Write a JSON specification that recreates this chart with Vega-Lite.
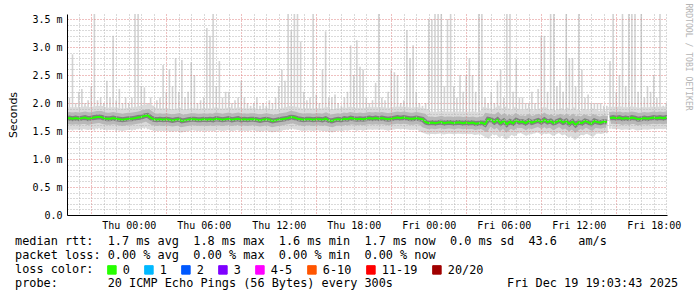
{
  "$schema": "https://vega.github.io/schema/vega-lite/v6.json",
  "width": 600,
  "height": 201,
  "autosize": {"type": "none"},
  "padding": {"left": 67, "top": 14, "right": 30, "bottom": 82},
  "background": "#ffffff",
  "config": {"view": {"stroke": null}},
  "title": {
    "text": [
      "median rtt:\u00a0\u00a01.7 ms avg\u00a0\u00a01.8 ms max\u00a0\u00a01.6 ms min\u00a0\u00a01.7 ms now\u00a0\u00a00.0 ms sd\u00a0\u00a043.6\u00a0\u00a0\u00a0am/s",
      "packet loss: 0.00 % avg\u00a0\u00a00.00 % max\u00a0\u00a00.00 % min\u00a0\u00a00.00 % now",
      "loss color:",
      "probe:\u00a0\u00a0\u00a0\u00a0\u00a0\u00a0\u00a020 ICMP Echo Pings (56 Bytes) every 300s\u00a0\u00a0\u00a0\u00a0\u00a0\u00a0\u00a0\u00a0\u00a0\u00a0\u00a0\u00a0\u00a0\u00a0\u00a0\u00a0Fri Dec 19 19:03:43 2025"
    ],
    "orient": "bottom",
    "anchor": "start",
    "frame": "group",
    "dx": -52,
    "offset": -41,
    "baseline": "top",
    "font": "DejaVu Sans Mono",
    "fontSize": 11.85,
    "fontWeight": "normal",
    "color": "#000000",
    "lineHeight": 14
  },
  "data": {"values": [
    {"h":-5.0,"lo":1.52,"hi":2.1,"m":1.72},{"h":-4.75,"lo":1.52,"hi":2.1,"m":1.73},{"h":-4.5,"lo":1.51,"hi":2.87,"m":1.72},{"h":-4.25,"lo":1.53,"hi":2.0,"m":1.73},
    {"h":-4.0,"lo":1.52,"hi":2.2,"m":1.72},{"h":-3.75,"lo":1.51,"hi":2.25,"m":1.73},{"h":-3.5,"lo":1.53,"hi":2.0,"m":1.74},{"h":-3.25,"lo":1.52,"hi":2.05,"m":1.72},
    {"h":-3.0,"lo":1.52,"hi":2.3,"m":1.73},{"h":-2.75,"lo":1.51,"hi":3.59,"m":1.74},{"h":-2.5,"lo":1.53,"hi":2.05,"m":1.75},{"h":-2.25,"lo":1.52,"hi":2.1,"m":1.75},
    {"h":-2.0,"lo":1.52,"hi":2.0,"m":1.73},{"h":-1.75,"lo":1.51,"hi":2.4,"m":1.72},{"h":-1.5,"lo":1.52,"hi":2.1,"m":1.72},{"h":-1.25,"lo":1.52,"hi":3.2,"m":1.73},
    {"h":-1.0,"lo":1.5,"hi":2.05,"m":1.72},{"h":-0.75,"lo":1.51,"hi":2.25,"m":1.71},{"h":-0.5,"lo":1.5,"hi":2.0,"m":1.7},{"h":-0.25,"lo":1.52,"hi":2.1,"m":1.71},
    {"h":0.0,"lo":1.52,"hi":2.0,"m":1.72},{"h":0.25,"lo":1.51,"hi":2.1,"m":1.72},{"h":0.5,"lo":1.52,"hi":3.59,"m":1.73},{"h":0.75,"lo":1.53,"hi":3.59,"m":1.74},
    {"h":1.0,"lo":1.53,"hi":2.3,"m":1.75},{"h":1.25,"lo":1.54,"hi":2.28,"m":1.77},{"h":1.5,"lo":1.53,"hi":2.0,"m":1.78},{"h":1.75,"lo":1.52,"hi":2.1,"m":1.74},
    {"h":2.0,"lo":1.5,"hi":1.95,"m":1.71},{"h":2.25,"lo":1.5,"hi":2.05,"m":1.7},{"h":2.5,"lo":1.51,"hi":2.1,"m":1.71},{"h":2.75,"lo":1.5,"hi":2.68,"m":1.7},
    {"h":3.0,"lo":1.5,"hi":2.2,"m":1.71},{"h":3.25,"lo":1.49,"hi":2.6,"m":1.7},{"h":3.5,"lo":1.49,"hi":2.3,"m":1.69},{"h":3.75,"lo":1.5,"hi":2.8,"m":1.7},
    {"h":4.0,"lo":1.51,"hi":2.2,"m":1.71},{"h":4.25,"lo":1.48,"hi":2.77,"m":1.68},{"h":4.5,"lo":1.49,"hi":2.1,"m":1.69},{"h":4.75,"lo":1.5,"hi":2.2,"m":1.7},
    {"h":5.0,"lo":1.51,"hi":2.73,"m":1.71},{"h":5.25,"lo":1.51,"hi":2.5,"m":1.71},{"h":5.5,"lo":1.5,"hi":2.0,"m":1.7},{"h":5.75,"lo":1.5,"hi":2.05,"m":1.7},
    {"h":6.0,"lo":1.51,"hi":2.1,"m":1.71},{"h":6.25,"lo":1.5,"hi":3.34,"m":1.7},{"h":6.5,"lo":1.51,"hi":3.2,"m":1.71},{"h":6.75,"lo":1.5,"hi":3.59,"m":1.7},
    {"h":7.0,"lo":1.52,"hi":2.3,"m":1.72},{"h":7.25,"lo":1.51,"hi":2.75,"m":1.71},{"h":7.5,"lo":1.5,"hi":2.1,"m":1.7},{"h":7.75,"lo":1.51,"hi":2.2,"m":1.71},
    {"h":8.0,"lo":1.52,"hi":2.2,"m":1.72},{"h":8.25,"lo":1.5,"hi":2.0,"m":1.7},{"h":8.5,"lo":1.51,"hi":2.05,"m":1.71},{"h":8.75,"lo":1.52,"hi":2.1,"m":1.72},
    {"h":9.0,"lo":1.5,"hi":2.4,"m":1.7},{"h":9.25,"lo":1.51,"hi":2.1,"m":1.71},{"h":9.5,"lo":1.5,"hi":2.0,"m":1.7},{"h":9.75,"lo":1.51,"hi":1.95,"m":1.71},
    {"h":10.0,"lo":1.51,"hi":2.0,"m":1.71},{"h":10.25,"lo":1.5,"hi":2.1,"m":1.7},{"h":10.5,"lo":1.49,"hi":1.95,"m":1.69},{"h":10.75,"lo":1.5,"hi":2.0,"m":1.7},
    {"h":11.0,"lo":1.51,"hi":1.95,"m":1.71},{"h":11.25,"lo":1.5,"hi":2.05,"m":1.7},{"h":11.5,"lo":1.48,"hi":2.0,"m":1.68},{"h":11.75,"lo":1.49,"hi":2.1,"m":1.69},
    {"h":12.0,"lo":1.5,"hi":2.3,"m":1.7},{"h":12.25,"lo":1.51,"hi":2.6,"m":1.71},{"h":12.5,"lo":1.52,"hi":2.4,"m":1.72},{"h":12.75,"lo":1.52,"hi":3.59,"m":1.73},
    {"h":13.0,"lo":1.53,"hi":3.3,"m":1.75},{"h":13.25,"lo":1.53,"hi":3.59,"m":1.74},{"h":13.5,"lo":1.52,"hi":3.59,"m":1.72},{"h":13.75,"lo":1.51,"hi":3.1,"m":1.71},
    {"h":14.0,"lo":1.5,"hi":2.2,"m":1.7},{"h":14.25,"lo":1.51,"hi":2.05,"m":1.71},{"h":14.5,"lo":1.51,"hi":2.1,"m":1.71},{"h":14.75,"lo":1.5,"hi":3.59,"m":1.7},
    {"h":15.0,"lo":1.51,"hi":2.15,"m":1.71},{"h":15.25,"lo":1.51,"hi":2.0,"m":1.71},{"h":15.5,"lo":1.5,"hi":2.6,"m":1.7},{"h":15.75,"lo":1.52,"hi":3.28,"m":1.72},
    {"h":16.0,"lo":1.49,"hi":2.1,"m":1.69},{"h":16.25,"lo":1.48,"hi":2.1,"m":1.68},{"h":16.5,"lo":1.5,"hi":2.15,"m":1.7},{"h":16.75,"lo":1.51,"hi":2.0,"m":1.71},
    {"h":17.0,"lo":1.5,"hi":1.95,"m":1.7},{"h":17.25,"lo":1.52,"hi":2.1,"m":1.72},{"h":17.5,"lo":1.51,"hi":2.2,"m":1.71},{"h":17.75,"lo":1.52,"hi":3.03,"m":1.73},
    {"h":18.0,"lo":1.52,"hi":2.5,"m":1.72},{"h":18.25,"lo":1.51,"hi":3.12,"m":1.71},{"h":18.5,"lo":1.52,"hi":2.65,"m":1.72},{"h":18.75,"lo":1.51,"hi":2.6,"m":1.71},
    {"h":19.0,"lo":1.52,"hi":2.1,"m":1.72},{"h":19.25,"lo":1.53,"hi":2.0,"m":1.73},{"h":19.5,"lo":1.52,"hi":2.05,"m":1.72},{"h":19.75,"lo":1.53,"hi":2.36,"m":1.73},
    {"h":20.0,"lo":1.52,"hi":3.59,"m":1.72},{"h":20.25,"lo":1.53,"hi":2.1,"m":1.73},{"h":20.5,"lo":1.52,"hi":2.05,"m":1.72},{"h":20.75,"lo":1.51,"hi":2.2,"m":1.71},
    {"h":21.0,"lo":1.52,"hi":2.6,"m":1.72},{"h":21.25,"lo":1.53,"hi":2.55,"m":1.73},{"h":21.5,"lo":1.54,"hi":2.5,"m":1.74},{"h":21.75,"lo":1.53,"hi":2.0,"m":1.73},
    {"h":22.0,"lo":1.54,"hi":2.05,"m":1.74},{"h":22.25,"lo":1.53,"hi":3.3,"m":1.73},{"h":22.5,"lo":1.52,"hi":2.8,"m":1.72},{"h":22.75,"lo":1.52,"hi":3.03,"m":1.72},
    {"h":23.0,"lo":1.53,"hi":2.2,"m":1.73},{"h":23.25,"lo":1.52,"hi":2.0,"m":1.72},{"h":23.5,"lo":1.51,"hi":1.95,"m":1.71},{"h":23.75,"lo":1.47,"hi":2.0,"m":1.66},
    {"h":24.0,"lo":1.45,"hi":3.5,"m":1.64},{"h":24.25,"lo":1.46,"hi":3.5,"m":1.65},{"h":24.5,"lo":1.45,"hi":3.59,"m":1.64},{"h":24.75,"lo":1.46,"hi":3.59,"m":1.65},
    {"h":25.0,"lo":1.47,"hi":3.59,"m":1.66},{"h":25.25,"lo":1.45,"hi":2.3,"m":1.64},{"h":25.5,"lo":1.46,"hi":3.5,"m":1.65},{"h":25.75,"lo":1.46,"hi":3.59,"m":1.65},
    {"h":26.0,"lo":1.45,"hi":2.3,"m":1.64},{"h":26.25,"lo":1.46,"hi":2.1,"m":1.65},{"h":26.5,"lo":1.46,"hi":2.5,"m":1.65},{"h":26.75,"lo":1.45,"hi":2.2,"m":1.64},
    {"h":27.0,"lo":1.46,"hi":2.5,"m":1.65},{"h":27.25,"lo":1.45,"hi":2.8,"m":1.64},{"h":27.5,"lo":1.46,"hi":2.5,"m":1.65},{"h":27.75,"lo":1.44,"hi":2.2,"m":1.63},
    {"h":28.0,"lo":1.45,"hi":3.59,"m":1.64},{"h":28.25,"lo":1.46,"hi":3.59,"m":1.65},{"h":28.5,"lo":1.43,"hi":2.1,"m":1.62},{"h":28.75,"lo":1.5,"hi":2.0,"m":1.71},
    {"h":29.0,"lo":1.49,"hi":2.2,"m":1.7},{"h":29.25,"lo":1.46,"hi":2.0,"m":1.66},{"h":29.5,"lo":1.48,"hi":2.4,"m":1.7},{"h":29.75,"lo":1.44,"hi":2.6,"m":1.64},
    {"h":30.0,"lo":1.47,"hi":2.1,"m":1.68},{"h":30.25,"lo":1.43,"hi":3.59,"m":1.62},{"h":30.5,"lo":1.46,"hi":3.59,"m":1.67},{"h":30.75,"lo":1.44,"hi":2.2,"m":1.64},
    {"h":31.0,"lo":1.48,"hi":2.78,"m":1.69},{"h":31.25,"lo":1.46,"hi":2.1,"m":1.66},{"h":31.5,"lo":1.46,"hi":2.1,"m":1.67},{"h":31.75,"lo":1.44,"hi":2.0,"m":1.64},
    {"h":32.0,"lo":1.47,"hi":2.0,"m":1.68},{"h":32.25,"lo":1.45,"hi":2.2,"m":1.65},{"h":32.5,"lo":1.46,"hi":2.0,"m":1.67},{"h":32.75,"lo":1.48,"hi":2.25,"m":1.69},
    {"h":33.0,"lo":1.46,"hi":3.2,"m":1.66},{"h":33.25,"lo":1.49,"hi":3.2,"m":1.7},{"h":33.5,"lo":1.46,"hi":2.2,"m":1.66},{"h":33.75,"lo":1.47,"hi":3.59,"m":1.68},
    {"h":34.0,"lo":1.44,"hi":3.59,"m":1.64},{"h":34.25,"lo":1.46,"hi":2.3,"m":1.67},{"h":34.5,"lo":1.48,"hi":2.4,"m":1.69},{"h":34.75,"lo":1.45,"hi":2.2,"m":1.65},
    {"h":35.0,"lo":1.47,"hi":3.59,"m":1.68},{"h":35.25,"lo":1.44,"hi":2.8,"m":1.63},{"h":35.5,"lo":1.46,"hi":2.8,"m":1.67},{"h":35.75,"lo":1.43,"hi":2.3,"m":1.61},
    {"h":36.0,"lo":1.46,"hi":3.59,"m":1.66},{"h":36.25,"lo":1.44,"hi":2.6,"m":1.64},{"h":36.5,"lo":1.47,"hi":2.1,"m":1.68},{"h":36.75,"lo":1.46,"hi":2.15,"m":1.66},
    {"h":37.0,"lo":1.44,"hi":2.0,"m":1.63},{"h":37.25,"lo":1.47,"hi":2.0,"m":1.68},{"h":37.5,"lo":1.46,"hi":2.0,"m":1.66},{"h":37.75,"lo":1.45,"hi":2.0,"m":1.65},
    {"h":38.0,"lo":1.46,"hi":1.95,"m":1.67},{"h":38.25,"lo":1.46,"hi":1.95,"m":1.66},{"h":38.3,"lo":null,"hi":null,"m":null},
    {"h":38.5,"lo":1.54,"hi":2.75,"m":1.73},{"h":38.75,"lo":1.55,"hi":3.59,"m":1.74},{"h":39.0,"lo":1.54,"hi":2.2,"m":1.73},{"h":39.25,"lo":1.54,"hi":2.5,"m":1.74},
    {"h":39.5,"lo":1.53,"hi":3.59,"m":1.72},{"h":39.75,"lo":1.54,"hi":2.3,"m":1.73},{"h":40.0,"lo":1.53,"hi":3.59,"m":1.72},{"h":40.25,"lo":1.55,"hi":3.59,"m":1.74},
    {"h":40.5,"lo":1.54,"hi":3.59,"m":1.73},{"h":40.75,"lo":1.52,"hi":2.2,"m":1.71},{"h":41.0,"lo":1.53,"hi":3.59,"m":1.72},{"h":41.25,"lo":1.54,"hi":2.1,"m":1.73},
    {"h":41.5,"lo":1.53,"hi":2.3,"m":1.72},{"h":41.75,"lo":1.54,"hi":2.2,"m":1.73},{"h":42.0,"lo":1.55,"hi":2.5,"m":1.74},{"h":42.25,"lo":1.54,"hi":2.1,"m":1.73},
    {"h":42.5,"lo":1.55,"hi":3.59,"m":1.74},{"h":42.75,"lo":1.54,"hi":1.95,"m":1.73},{"h":43.0,"lo":1.55,"hi":2.0,"m":1.74},{"h":43.25,"lo":1.55,"hi":2.0,"m":1.74}
  ]},
  "encoding": {
    "x": {
      "field": "h",
      "type": "quantitative",
      "scale": {"domain": [-4.94, 43.06], "nice": false, "zero": false},
      "axis": {
        "values": [-4,-3,-2,-1,0,1,2,3,4,5,6,7,8,9,10,11,12,13,14,15,16,17,18,19,20,21,22,23,24,25,26,27,28,29,30,31,32,33,34,35,36,37,38,39,40,41,42,43],
        "labelExpr": "datum.value % 6 == 0 ? (datum.value < 24 ? 'Thu ' : 'Fri ') + ((datum.value % 24) < 10 ? '0' : '') + (datum.value % 24) + ':00' : ''",
        "grid": true,
        "gridColor": {"condition": {"test": "(datum.value + 3) % 6 == 0", "value": "#df8080"}, "value": "#b4b4b4"},
        "gridDash": [1, 2],
        "gridWidth": 1,
        "ticks": false,
        "domainColor": "#000000",
        "domainWidth": 1,
        "labelFont": "DejaVu Sans Mono",
        "labelFontSize": 10,
        "labelColor": "#000000",
        "labelPadding": 5,
        "labelFlush": false,
        "labelOverlap": false,
        "title": null,
        "zindex": 1
      }
    }
  },
  "layer": [
    {
      "mark": {"type": "rule", "color": "#d2d2d2", "strokeWidth": 1.6, "clip": true},
      "encoding": {
        "y": {
          "field": "hi",
          "type": "quantitative",
          "scale": {"domain": [0, 3.59], "nice": false, "zero": false},
          "axis": {
            "values": [0,0.1,0.2,0.3,0.4,0.5,0.6,0.7,0.8,0.9,1,1.1,1.2,1.3,1.4,1.5,1.6,1.7,1.8,1.9,2,2.1,2.2,2.3,2.4,2.5,2.6,2.7,2.8,2.9,3,3.1,3.2,3.3,3.4,3.5],
            "labelExpr": "abs(datum.value * 2 - round(datum.value * 2)) < 0.001 ? (datum.value == 0 ? '0.0' : format(datum.value, '.1f') + ' m') : ''",
            "grid": true,
            "gridColor": {"condition": {"test": "abs(datum.value * 2 - round(datum.value * 2)) < 0.001", "value": "#df8080"}, "value": "#b4b4b4"},
            "gridDash": [1, 2],
            "ticks": false,
            "domainColor": "#000000",
            "labelFont": "DejaVu Sans Mono",
            "labelFontSize": 10,
            "labelColor": "#000000",
            "labelPadding": 5,
            "labelOverlap": false,
            "title": "Seconds",
            "titleFont": "DejaVu Sans",
            "titleFontSize": 11,
            "titleFontWeight": "normal",
            "titleColor": "#000000",
            "titlePadding": 13,
            "zindex": 1
          }
        },
        "y2": {"field": "lo"}
      }
    },
    {
      "mark": {"type": "line", "color": "#dadada", "strokeWidth": 22, "strokeCap": "butt", "clip": true, "invalid": "break-paths-show-domains"},
      "encoding": {
        "y": {
          "field": "m",
          "type": "quantitative",
          "axis": {
            "orient": "right",
            "labels": false,
            "ticks": false,
            "domain": false,
            "grid": false,
            "title": "RRDTOOL / TOBI OETIKER",
            "titleFont": "DejaVu Sans Mono",
            "titleFontSize": 8.1,
            "titleFontWeight": "normal",
            "titleColor": "#b4b4b4",
            "titleAngle": 90,
            "titleAnchor": "end",
            "titleAlign": "left",
            "titleY": -11,
            "titlePadding": 16
          }
        }
      }
    },
    {
      "mark": {"type": "line", "color": "#b8b8b8", "strokeWidth": 12, "strokeCap": "butt", "clip": true, "invalid": "break-paths-show-domains"},
      "encoding": {"y": {"field": "m", "type": "quantitative", "axis": null}}
    },
    {
      "mark": {"type": "line", "color": "#808080", "strokeWidth": 5, "strokeCap": "butt", "clip": true, "invalid": "break-paths-show-domains"},
      "encoding": {"y": {"field": "m", "type": "quantitative", "axis": null}}
    },
    {
      "mark": {"type": "line", "strokeWidth": 2, "clip": true, "invalid": "break-paths-show-domains"},
      "encoding": {
        "y": {"field": "m", "type": "quantitative", "axis": null},
        "color": {
          "datum": "0",
          "type": "nominal",
          "scale": {
            "domain": ["0", "1", "2", "3", "4-5", "6-10", "11-19", "20/20"],
            "range": ["#26ff00", "#00b8ff", "#0059ff", "#7e00ff", "#ff00ff", "#ff5500", "#ff0000", "#a00000"]
          },
          "legend": {
            "orient": "none",
            "legendX": 39,
            "legendY": 250,
            "direction": "horizontal",
            "gridAlign": "none",
            "title": null,
            "symbolType": "square",
            "symbolSize": 72,
            "symbolStrokeWidth": 1,
            "symbolStrokeColor": "#000000",
            "symbolOpacity": 1,
            "labelFont": "DejaVu Sans Mono",
            "labelFontSize": 11.85,
            "labelColor": "#000000",
            "labelOffset": 5,
            "columnPadding": 12,
            "padding": 0,
            "labelLimit": 0,
            "encode": {
              "symbols": {
                "update": {
                  "fill": {"scale": "color", "field": "value"},
                  "stroke": {"value": "#000000"},
                  "strokeWidth": {"value": 1},
                  "opacity": {"value": 1}
                }
              }
            }
          }
        }
      }
    },
    {
      "data": {"values": [{}]},
      "mark": {"type": "point", "shape": "triangle-up", "filled": true, "color": "#8b1a1a", "size": 28, "opacity": 1, "yOffset": -3},
      "encoding": {
        "x": {"datum": -4.94, "type": "quantitative"},
        "y": {"datum": 3.59, "type": "quantitative", "axis": null}
      }
    },
    {
      "data": {"values": [{}]},
      "mark": {"type": "point", "shape": "triangle-right", "filled": true, "color": "#8b1a1a", "size": 28, "opacity": 1, "xOffset": 4},
      "encoding": {
        "x": {"datum": 43.06, "type": "quantitative"},
        "y": {"datum": 0, "type": "quantitative", "axis": null}
      }
    }
  ],
  "resolve": {"axis": {"y": "independent"}}
}
